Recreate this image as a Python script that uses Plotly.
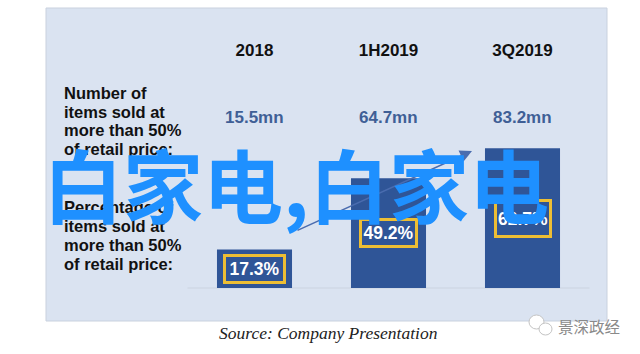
import plotly.graph_objects as go

categories = ["2018", "1H2019", "3Q2019"]
share_pct = [17.3, 49.2, 62.7]
items_sold = ["15.5mn", "64.7mn", "83.2mn"]
box_heights = [24, 24, 33]
box_widths = [57, 53, 52]
row_one = ["Number of", "items sold at", "more than 50%", "of retail price:"]
row_one_y = [93, 112, 130, 149]
row_two = ["Percentage of", "items sold at", "more than 50%", "of retail price:"]
row_two_y = [207, 226, 245, 264]
source = "Source: Company Presentation"
overlay = "白家电,白家电"
brand = "景深政经"

W, H = 640, 354
px = lambda v: v / W
py = lambda v: 1 - v / H
SANS = "Liberation Sans"
BLUE = "#2F5597"
SCALE = 2.23


def label(x, y, text, font, **kw):
    base = dict(x=x, y=y, xref="paper", yref="paper", text=text, showarrow=False,
                xanchor="center", yanchor="middle", font=font)
    base.update(kw)
    return base


fig = go.Figure(go.Bar(
    x=categories, y=share_pct, marker=dict(color=BLUE, line_width=0),
    width=0.56, hoverinfo="skip", showlegend=False,
))

ann = []
for i, (v, h, bw, n) in enumerate(zip(share_pct, box_heights, box_widths, items_sold)):
    ann.append(label(i, v / 2, f"<b>{v}%</b>", dict(family=SANS, size=17.5, color="white"),
                     xref="x", yref="y", bgcolor=BLUE, bordercolor="#EDBE34", borderwidth=3,
                     width=bw, height=h, borderpad=0))
    ann.append(label(i, py(118), f"<b>{n}</b>", dict(family=SANS, size=17, color="#3F5F96"), xref="x"))
for line, yc in zip(row_one + row_two, row_one_y + row_two_y):
    ann.append(label(px(62), py(yc), f"<b>{line}</b>", dict(family=SANS, size=16.5, color="#111111"),
                     xanchor="left"))
ann.append(label(px(328), py(333), f"<i>{source}</i>",
                 dict(family="Liberation Serif", size=17.5, color="#222222")))
ann.append(dict(x=px(472), y=py(151), ax=-176, ay=80, xref="paper", yref="paper",
                axref="pixel", ayref="pixel", text="", showarrow=True, arrowhead=2, arrowsize=1.6,
                arrowwidth=1.5, arrowcolor="#4A6CAF"))
ann.append(label(px(296), py(182), f"<b>{overlay}</b>",
                 dict(family="Noto Sans CJK SC", size=80, color="#1E90FF")))
ann.append(label(px(589), py(326), brand, dict(family="Noto Sans CJK SC", size=15.5, color="#8A8A8A")))

shapes = [
    dict(type="rect", xref="paper", yref="paper", x0=px(46), x1=px(607), y0=py(321), y1=py(8),
         fillcolor="#DAE3F1", line=dict(color="#C9D1DE", width=1), layer="below"),
    dict(type="circle", xref="paper", yref="paper", x0=px(529), x1=px(544), y0=py(329), y1=py(315),
         fillcolor="white", line=dict(color="#C4C4C4", width=1)),
    dict(type="circle", xref="paper", yref="paper", x0=px(539), x1=px(552), y0=py(335), y1=py(323),
         fillcolor="white", line=dict(color="#C4C4C4", width=1)),
]

fig.update_layout(
    width=W, height=H, margin=dict(l=0, r=0, t=0, b=0), paper_bgcolor="white",
    plot_bgcolor="rgba(0,0,0,0)", font=dict(family=SANS), annotations=ann, shapes=shapes,
    xaxis=dict(domain=[px(187.5), px(589.5)], range=[-0.5, 2.5], type="category", side="top",
               categoryorder="array", categoryarray=categories, showgrid=False, zeroline=False,
               showline=False, ticks="", tickfont=dict(family=SANS, size=17, color="#111111"),
               tickprefix="<b>", ticksuffix="</b>"),
    yaxis=dict(domain=[1 - 288 / H, 1 - 60 / H], range=[0, 228 / SCALE], visible=False),
)
fig.add_shape(type="line", xref="x domain", yref="y domain", x0=0, x1=1, y0=0, y1=0,
              line=dict(color="#CBD3E0", width=1), layer="below")

fig.write_html("out.html", config={"displayModeBar": False},
               post_script="document.body.style.margin='0';")
